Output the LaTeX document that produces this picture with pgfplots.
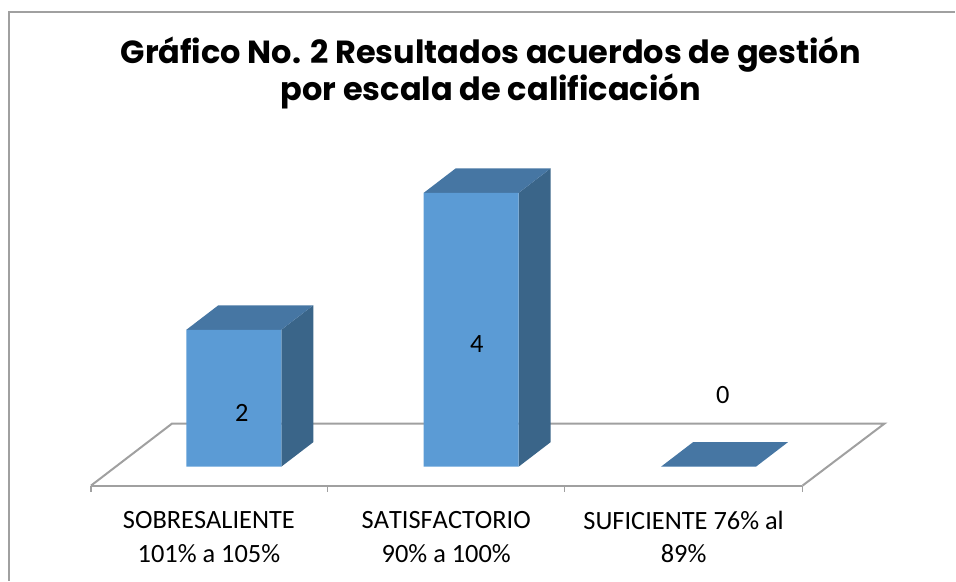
\documentclass[border=0pt]{standalone}
\usepackage{pgfplots}
\pgfplotsset{compat=1.18}
\usepackage{fontspec}
\setmainfont{Carlito}[Kerning=Off]
\newfontfamily\titlefont{Poppins}
\definecolor{barfront}{HTML}{5B9BD5}
\definecolor{bartop}{HTML}{4676A3}
\definecolor{barside}{HTML}{3A6589}
\definecolor{gridgray}{HTML}{A0A0A0}
\begin{document}
\begin{tikzpicture}
\begin{axis}[
    width=717pt, height=435.75pt, scale only axis,
    axis lines=none,
    clip=false,
    xmin=-0.98526, xmax=3.04,
    ymin=-1.6642, ymax=6.8175,
]
% keeps the page at the full size
\path (rel axis cs:0,0) rectangle (rel axis cs:1,1);
% chart frame
\addplot[draw=gridgray, line width=1pt] coordinates {(-0.947,-1.6642) (-0.947,6.642) (3.04,6.642)};
% floor
\addplot[draw=gridgray, line width=1.5pt] coordinates {(-0.602,-0.277) (-0.261,0.628) (2.741,0.628) (2.396,-0.277)};
\addplot[draw=gridgray, line width=1.5pt] coordinates {(-0.602,-0.277) (2.396,-0.277)};
% ticks
\addplot[draw=gridgray, line width=1pt] coordinates {(-0.602,-0.277) (-0.602,-0.365)};
\addplot[draw=gridgray, line width=1pt] coordinates {(0.396,-0.277) (0.396,-0.365)};
\addplot[draw=gridgray, line width=1pt] coordinates {(1.394,-0.277) (1.394,-0.365)};
\addplot[draw=gridgray, line width=1pt] coordinates {(2.396,-0.277) (2.396,-0.365)};
% sides
\addplot[fill=barside, draw=none] coordinates {(0.2,0) (0.3347,0.3577) (0.3347,2.3577) (0.2,2)} -- cycle;
\addplot[fill=barside, draw=none] coordinates {(1.2,0) (1.3347,0.3577) (1.3347,4.3577) (1.2,4)} -- cycle;
% tops
\addplot[fill=bartop, draw=none] coordinates {(-0.2,2) (0.2,2) (0.3347,2.3577) (-0.0653,2.3577)} -- cycle;
\addplot[fill=bartop, draw=none] coordinates {(0.8,4) (1.2,4) (1.3347,4.3577) (0.9347,4.3577)} -- cycle;
\addplot[fill=bartop, draw=none] coordinates {(1.8,0) (2.2,0) (2.3347,0.3577) (1.9347,0.3577)} -- cycle;
% fronts
\addplot[ybar, bar width=71.25pt, bar shift=0pt, fill=barfront, draw=none] coordinates {(0,2) (1,4) (2,0)};
% data labels
\addplot[only marks, mark=none, point meta=explicit symbolic,
    nodes near coords, nodes near coords align={center},
    every node near coord/.append style={font=\fontsize{19.8}{24}\selectfont, text=black}]
    coordinates {(0.034,0.788)[2] (1.024,1.795)[4] (2.06,1.05)[0]};
% title
\node[font=\titlefont\bfseries\fontsize{24}{27.5}\selectfont, align=center, text=black] at (axis cs:1.082,5.75) {Gráfico No. 2 Resultados acuerdos de gestión\\por escala de calificación};
% category labels
\node[font=\fontsize{19.8}{25}\selectfont, align=center, text=black] at (axis cs:-0.105,-1.03) {SOBRESALIENTE\\101\% a 105\%};
\node[font=\fontsize{19.8}{25}\selectfont, align=center, text=black] at (axis cs:0.895,-1.03) {SATISFACTORIO\\90\% a 100\%};
\node[font=\fontsize{19.8}{25}\selectfont, align=center, text=black] at (axis cs:1.895,-1.03) {SUFICIENTE 76\% al\\89\%};
\end{axis}
\end{tikzpicture}
\end{document}
